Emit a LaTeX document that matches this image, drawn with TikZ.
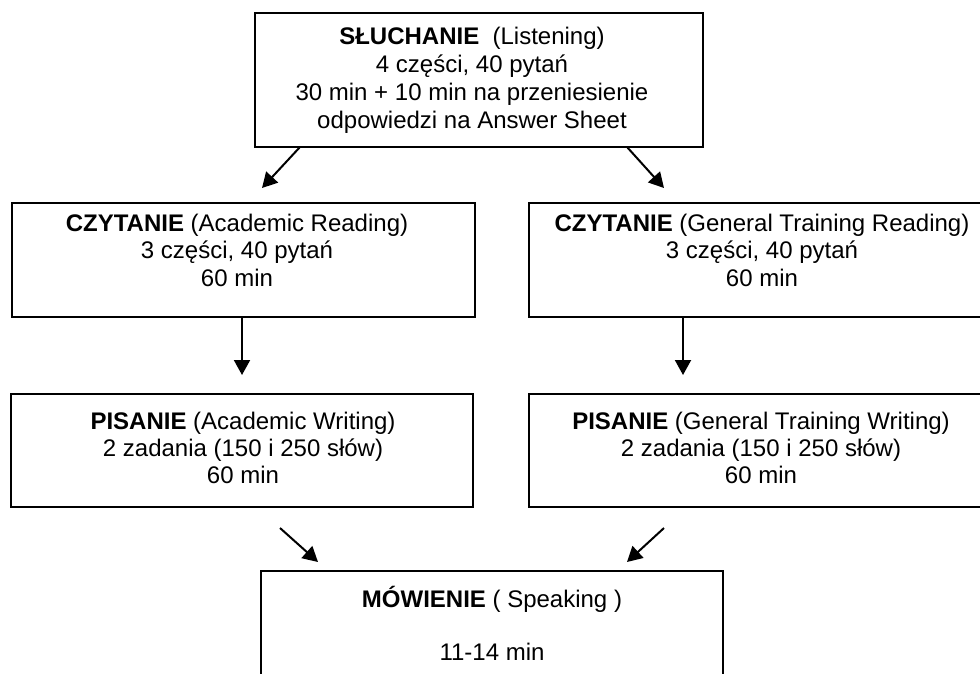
\documentclass[tikz,border=0pt]{standalone}
\usepackage{fontspec}
\setmainfont{Liberation Sans}
\usetikzlibrary{arrows.meta}
\tikzset{
  box/.style={draw=black, line width=2.2pt, minimum width=#1, inner sep=0pt},
  lbl/.style={align=center, font=\fontsize{24}{27.5}\selectfont, inner sep=0pt},
  arr/.style={line width=2pt, -{Triangle[length=15pt,width=16pt]}}
}
\begin{document}
\begin{tikzpicture}[x=1pt,y=-1pt]
\useasboundingbox (0,0) rectangle (980,673);
\clip (0,0) rectangle (980,673);
% boxes
\node[box=448pt, minimum height=134pt] (top) at (479,80) {};
\node[box=463pt, minimum height=114pt] (rl) at (243.5,260) {};
\node[box=456pt, minimum height=114pt] (rr) at (757,260) {};
\node[box=462pt, minimum height=113pt] (wl) at (242,450.5) {};
\node[box=456pt, minimum height=113pt] (wr) at (757,450.5) {};
\node[box=462pt, minimum height=149pt] (sp) at (492,645.5) {};
% texts
\node[lbl, font=\fontsize{24}{28}\selectfont] (topt) at (472,80) {\textbf{SŁUCHANIE}\ \ (Listening)\\4 części, 40 pytań\\30 min + 10 min na przeniesienie\\odpowiedzi na Answer Sheet};
\node[lbl] (rlt) at (237,250) {\textbf{CZYTANIE} (Academic Reading)\\3 części, 40 pytań\\60 min};
\node[lbl] (rrt) at (762,250) {\textbf{CZYTANIE} (General Training Reading)\\3 części, 40 pytań\\60 min};
\node[lbl, font=\fontsize{24}{27}\selectfont] (wlt) at (243,448) {\textbf{PISANIE} (Academic Writing)\\2 zadania (150 i 250 słów)\\60 min};
\node[lbl, font=\fontsize{24}{27}\selectfont] (wrt) at (761,448) {\textbf{PISANIE} (General Training Writing)\\2 zadania (150 i 250 słów)\\60 min};
\node[lbl, font=\fontsize{24}{26.5}\selectfont] (spt) at (492,623.5) {\textbf{MÓWIENIE} ( Speaking )\\[26.5pt]11-14 min};
% arrow end points
\coordinate (a1s) at (300,147);
\coordinate (a1e) at (262,188);
\coordinate (a2s) at (627,147);
\coordinate (a2e) at (664,188);
\coordinate (a3s) at (242,317);
\coordinate (a3e) at (242,375);
\coordinate (a4s) at (683,317);
\coordinate (a4e) at (683,375);
\coordinate (a5s) at (280,528);
\coordinate (a5e) at (318,562);
\coordinate (a6s) at (664,528);
\coordinate (a6e) at (627,562);
\draw[arr] (a1s) -- (a1e);
\draw[arr] (a2s) -- (a2e);
\draw[arr] (a3s) -- (a3e);
\draw[arr] (a4s) -- (a4e);
\draw[arr] (a5s) -- (a5e);
\draw[arr] (a6s) -- (a6e);
\end{tikzpicture}
\end{document}
